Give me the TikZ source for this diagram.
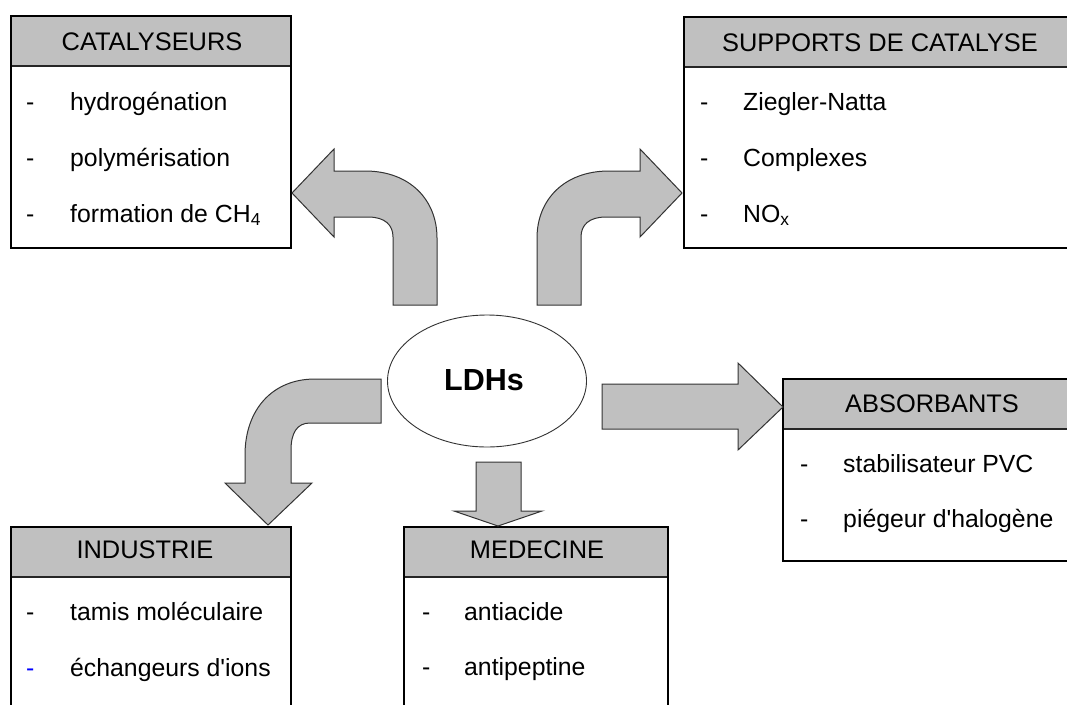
\documentclass[tikz,border=0pt]{standalone}
\usepackage{fontspec}
\setmainfont{Liberation Sans}[Ligatures=TeXOff]
\usetikzlibrary{shapes.geometric}
\definecolor{hdrgray}{HTML}{C0C0C0}
\definecolor{arrgray}{HTML}{C0C0C0}
\definecolor{arrline}{HTML}{333333}
\definecolor{dashblue}{HTML}{0000FF}
\tikzset{
  frame/.style={draw=black, line width=1.1pt},
  sep/.style={draw=black!85, line width=2pt},
  blockarrow/.style={fill=arrgray, draw=arrline, line width=1pt, line join=miter},
  hdrtext/.style={font=\fontsize{25.4}{29}\selectfont, anchor=base, inner sep=0pt},
  itemtext/.style={font=\fontsize{24.8}{28}\selectfont, anchor=base west, inner sep=0pt},
}
\begin{document}
\begin{tikzpicture}[x=1pt,y=-1pt]
\useasboundingbox (0,0) rectangle (1067,704);
\clip (0,0) rectangle (1067,704);
\fill[white] (0,0) rectangle (1067,704);

% ---------- CATALYSEURS ----------
\fill[hdrgray] (11,16) rectangle (291,66);
\draw[sep] (11,66) -- (291,66);
\draw[frame] (11,16) rectangle (291,248);
\node[hdrtext] (catH) at (152,50) {CATALYSEURS};
\node[itemtext] (catD1) at (26,110) {-};
\node[itemtext] (cat1) at (70,110) {hydrogénation};
\node[itemtext] (catD2) at (26,166) {-};
\node[itemtext] (cat2) at (70,166) {polymérisation};
\node[itemtext] (catD3) at (26,222) {-};
\node[itemtext] (cat3) at (70,222) {formation de CH\textsubscript{4}};

% ---------- SUPPORTS DE CATALYSE ----------
\fill[hdrgray] (684,17) rectangle (1076,67);
\draw[sep] (684,67) -- (1076,67);
\draw[frame] (684,17) rectangle (1076,248);
\node[hdrtext] (supH) at (880,51) {SUPPORTS DE CATALYSE};
\node[itemtext] (supD1) at (700,110) {-};
\node[itemtext] (sup1) at (743,110) {Ziegler-Natta};
\node[itemtext] (supD2) at (700,166) {-};
\node[itemtext] (sup2) at (743,166) {Complexes};
\node[itemtext] (supD3) at (700,222) {-};
\node[itemtext] (sup3) at (743,222) {NO\textsubscript{x}};

% ---------- ABSORBANTS ----------
\fill[hdrgray] (783,379) rectangle (1081,429);
\draw[sep] (783,429) -- (1081,429);
\draw[frame] (783,379) rectangle (1081,561);
\node[hdrtext] (absH) at (932,412) {ABSORBANTS};
\node[itemtext] (absD1) at (800,472) {-};
\node[itemtext] (abs1) at (843,472) {stabilisateur PVC};
\node[itemtext] (absD2) at (800,527) {-};
\node[itemtext] (abs2) at (843,527) {piégeur d'halogène};

% ---------- INDUSTRIE ----------
\fill[hdrgray] (11,527) rectangle (291,577);
\draw[sep] (11,577) -- (291,577);
\draw[frame] (11,527) rectangle (291,730);
\node[hdrtext] (indH) at (145,558) {INDUSTRIE};
\node[itemtext] (indD1) at (26,620) {-};
\node[itemtext] (ind1) at (70,620) {tamis moléculaire};
\node[itemtext, text=dashblue] (indD2) at (26,676) {-};
\node[itemtext] (ind2) at (70,676) {échangeurs d'ions};

% ---------- MEDECINE ----------
\fill[hdrgray] (404,527) rectangle (668,577);
\draw[sep] (404,577) -- (668,577);
\draw[frame] (404,527) rectangle (668,730);
\node[hdrtext] (medH) at (537,558) {MEDECINE};
\node[itemtext] (medD1) at (422,620) {-};
\node[itemtext] (med1) at (464,620) {antiacide};
\node[itemtext] (medD2) at (422,675) {-};
\node[itemtext] (med2) at (464,675) {antipeptine};

% ---------- LDHs ----------
\node[draw=black!80, line width=0.9pt, ellipse, minimum width=199pt, minimum height=132pt, inner sep=0pt] (ldh) at (487,381) {};
\node[font=\bfseries\fontsize{30.5}{34}\selectfont, anchor=base, inner sep=0pt] (ldhT) at (484,390) {LDHs};

% ---------- block arrows ----------
% top-left curved arrow
\draw[blockarrow] (292,193) -- (334,149) -- (334,171) -- (365,171)
  .. controls (410,171) and (437,200) .. (437,238) -- (437,305) -- (393,305) -- (393,237)
  .. controls (393,225) and (385,217) .. (368,217) -- (334,217) -- (334,237) -- cycle;
% top-right curved arrow (mirror)
\begin{scope}[shift={(974,0)}, xscale=-1]
\draw[blockarrow] (292,193) -- (334,149) -- (334,171) -- (365,171)
  .. controls (410,171) and (437,200) .. (437,238) -- (437,305) -- (393,305) -- (393,237)
  .. controls (393,225) and (385,217) .. (368,217) -- (334,217) -- (334,237) -- cycle;
\end{scope}
% bottom-left curved arrow
\draw[blockarrow] (381,379) -- (381,423) -- (310,423)
  .. controls (297,423) and (291,433) .. (291,450) -- (291,483) -- (312,483) -- (268,525)
  -- (225,483) -- (245,483) -- (245,455)
  .. controls (245,410) and (272,379) .. (315,379) -- cycle;
% straight down arrow
\draw[blockarrow] (476,462) -- (521,462) -- (521,511) -- (542,511) -- (498,526)
  -- (454,511) -- (476,511) -- cycle;
% straight right arrow
\draw[blockarrow] (602,384) -- (738,384) -- (738,363) -- (783,407) -- (738,450)
  -- (738,429) -- (602,429) -- cycle;
\end{tikzpicture}
\end{document}
